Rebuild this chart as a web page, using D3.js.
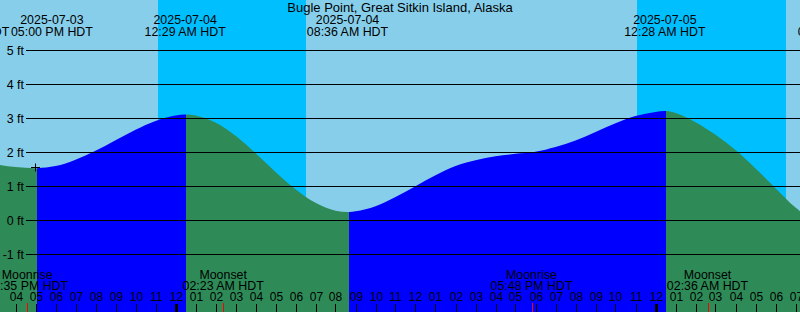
<!DOCTYPE html>
<html><head><meta charset="utf-8">
<script src="https://cdn.jsdelivr.net/npm/d3@7/dist/d3.min.js"></script>
<style>
html,body{margin:0;padding:0;background:#fff;}
svg{display:block;}
text{font-family:"Liberation Sans",Arial,sans-serif;font-size:12.4px;fill:#000;}
</style></head>
<body>
<script>
// ---- data (hours counted from 2025-07-03 00:00 HDT) ----
const title = "Bugle Point, Great Sitkin Island, Alaska";
const tideHours = [14,15,16,18,19,20,21,22,23,24,25,26,27,28,29,30,31,32,33,34,35,36,37,38,39,40,41,42,43,44,45,46,47,48,49,50,51,52,53,54,55,56];
const tideFeet  = [1.75,1.65,1.57,1.60,1.79,2.05,2.36,2.67,2.93,3.09,3.09,2.88,2.49,1.98,1.43,0.92,0.52,0.29,0.27,0.42,0.69,1.01,1.33,1.60,1.77,1.89,1.96,2.02,2.16,2.35,2.60,2.86,3.07,3.19,3.16,2.89,2.52,2.07,1.53,0.95,0.38,-0.05];
const eventHours = [17.0, 24.483, 32.6, 48.467];
const eventTypes = ["low","high","low","high"];
const eventFeet  = [1.54, 3.12, 0.25, 3.22];
const nowHour = 17.0;
const labelDates = ["2025-07-03","2025-07-03","2025-07-04","2025-07-04","2025-07-05","2025-07-05"];
const labelTimes = ["01:37 PM HDT","05:00 PM HDT","12:29 AM HDT","08:36 AM HDT","12:28 AM HDT","09:10 AM HDT"];
const labelHours = [13.64, 17.82, 24.483, 32.6, 48.467, 57.15];
const sunsetHours  = [23.117, 47.083];
const sunriseHours = [30.517, 54.517];
const moonKinds = ["Moonrise","Moonset","Moonrise","Moonset"];
const moonTimes = ["04:35 PM HDT","02:23 AM HDT","05:48 PM HDT","02:36 AM HDT"];
const moonHours = [16.583, 26.383, 41.8, 50.6];
const feetTicks = [5,4,3,2,1,0,-1];

// ---- layout ----
const W = 800, H = 312;
const viewStart = 15.225, viewEnd = 55.225;
const x = d3.scaleLinear().domain([viewStart, viewEnd]).range([0, W]);
const y = d3.scaleLinear().domain([0, 5]).range([220.5, 50.5]);

const svg = d3.select("body").append("svg").attr("width", W).attr("height", H);

// day / night
svg.append("rect").attr("x",0).attr("y",0).attr("width",W).attr("height",H).attr("fill","#87CEEB");
svg.selectAll("rect.night").data(sunsetHours).enter().append("rect")
  .attr("class","night")
  .attr("x", d => Math.round(x(d)))
  .attr("y", 0)
  .attr("width", (d,i) => Math.round(x(sunriseHours[i])) - Math.round(x(d)))
  .attr("height", H)
  .attr("fill", "#00BFFF");

// tide series
const pts = tideHours.map((h,i)=>({t:h, v:tideFeet[i]}))
  .concat(eventHours.map((h,i)=>({t:h, v:eventFeet[i]})))
  .sort((a,b)=>a.t-b.t);
const area = d3.area().x(d=>x(d.t)).y0(H).y1(d=>y(d.v)).curve(d3.curveMonotoneX);

// segments colored by flood (blue) / ebb (green)
const bounds = [viewStart - 2].concat(eventHours).concat([viewEnd + 2]);
const defs = svg.append("defs");
for (let i = 0; i < bounds.length - 1; i++) {
  const x0 = i === 0 ? -10 : Math.round(x(bounds[i])) + 1;
  const x1 = i === bounds.length - 2 ? W + 10 : Math.round(x(bounds[i+1])) + 1;
  const rising = i > 0 && eventTypes[i-1] === "low";
  defs.append("clipPath").attr("id","seg"+i).append("rect")
    .attr("x", x0).attr("y", 0).attr("width", x1 - x0).attr("height", H);
  svg.append("path").datum(pts).attr("d", area)
    .attr("fill", rising ? "#0000FF" : "#2E8B57")
    .attr("clip-path", "url(#seg"+i+")");
}

// horizontal grid + labels
svg.selectAll("line.grid").data(feetTicks).enter().append("line")
  .attr("x1", 26).attr("x2", W)
  .attr("y1", d => y(d)).attr("y2", d => y(d))
  .attr("stroke", "#000").attr("stroke-width", 1);
svg.selectAll("text.ft").data(feetTicks).enter().append("text")
  .attr("x", 24).attr("y", d => y(d) + 4.5)
  .attr("text-anchor", "end")
  .text(d => d + " ft");

// now marker
const nowV = eventFeet[eventHours.indexOf(nowHour)];
const nx = Math.round(x(nowHour)) - 0.5, ny = Math.round(y(nowV)) - 0.5;
svg.append("path").attr("d", `M${nx-4.5},${ny}H${nx+4.5}M${nx},${ny-4}V${ny+4}`)
  .attr("stroke","#000").attr("stroke-width",1).attr("fill","none");

// title
svg.append("text").attr("x", W/2).attr("y", 11.6).attr("text-anchor","middle")
  .style("font-size","13px").text(title);

// top event labels
const tl = svg.selectAll("g.tl").data(labelHours).enter().append("g");
tl.append("text").attr("x", d => x(d)).attr("y", 23.5).attr("text-anchor","middle")
  .text((d,i) => labelDates[i]);
tl.append("text").attr("x", d => x(d)).attr("y", 35.8).attr("text-anchor","middle")
  .text((d,i) => labelTimes[i]);

// moon labels
const ml = svg.selectAll("g.ml").data(moonHours).enter().append("g");
ml.append("text").attr("x", d => x(d)).attr("y", 278.5).attr("text-anchor","middle")
  .text((d,i) => moonKinds[i]);
ml.append("text").attr("x", d => x(d)).attr("y", 289.5).attr("text-anchor","middle")
  .text((d,i) => moonTimes[i]);

// hour ticks & labels
const hours = d3.range(Math.ceil(viewStart), Math.floor(viewEnd) + 1);
svg.selectAll("line.hr").data(hours).enter().append("line")
  .attr("x1", d => Math.round(x(d)) + 0.5).attr("x2", d => Math.round(x(d)) + 0.5)
  .attr("y1", 304).attr("y2", H)
  .attr("stroke", "#000")
  .attr("stroke-width", d => d % 24 === 0 ? 3 : 1);
svg.selectAll("text.hr").data(hours).enter().append("text")
  .attr("x", d => Math.round(x(d)) + 0.5).attr("y", 300.7)
  .attr("text-anchor","middle")
  .style("font-size","12px")
  .text(d => { const h = d % 12 === 0 ? 12 : d % 12; return String(h).padStart(2,"0"); });
svg.selectAll("line.moon").data(moonHours).enter().append("line")
  .attr("x1", d => Math.round(x(d)) + 0.5).attr("x2", d => Math.round(x(d)) + 0.5)
  .attr("y1", 303).attr("y2", H)
  .attr("stroke", "#FF0000").attr("stroke-width", 1);
</script>
</body></html>
